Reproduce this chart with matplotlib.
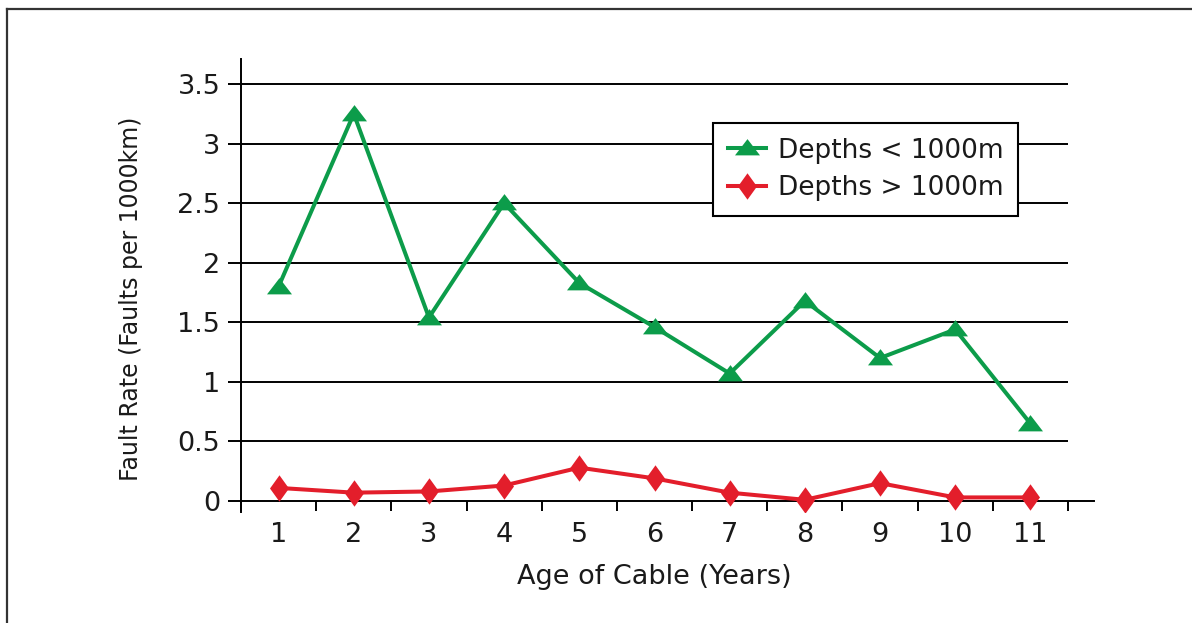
import matplotlib
matplotlib.use("Agg")
import matplotlib.pyplot as plt
from matplotlib.path import Path
from matplotlib.lines import Line2D

# dados
anos = [1, 2, 3, 4, 5, 6, 7, 8, 9, 10, 11]
raso = [1.80, 3.25, 1.54, 2.50, 1.83, 1.46, 1.07, 1.68, 1.20, 1.44, 0.65]
profundo = [0.11, 0.07, 0.08, 0.13, 0.28, 0.19, 0.07, 0.01, 0.15, 0.03, 0.03]
y_ticks = [0, 0.5, 1, 1.5, 2, 2.5, 3, 3.5]
y_labels = ["0", "0.5", "1", "1.5", "2", "2.5", "3", "3.5"]
rotulo_raso = "Depths < 1000m"
rotulo_profundo = "Depths > 1000m"

W, H = 1192, 623
verde = "#0c9c4a"
vermelho = "#e31e2b"
texto = "#1a1a1a"

plt.rcParams["font.family"] = ["DejaVu Sans"]
fig = plt.figure(figsize=(W / 100, H / 100), dpi=100)

# eixo em pixels: y=0 em 501, y=3.5 em 84 ; x=0.5 em 241, x=11.5 em 1068
px_y = (501 - 84) / 3.5
px_x = (1068 - 241) / 11.0
left, right, top, bottom = 241, 1094, 59, 512
ax = fig.add_axes([left / W, 1 - bottom / H, (right - left) / W, (bottom - top) / H])
ax.set_xlim(0.5, 0.5 + (right - left) / px_x)
ax.set_ylim(-(bottom - 501) / px_y, 3.5 + (84 - top) / px_y)

# linhas de grade só até 11.5
ax.hlines(y_ticks[1:], 0.5, 11.5, color="black", lw=1.4, zorder=1)

tri = Path([(-1, -0.55), (1, -0.55), (0, 0.75), (-1, -0.55)],
           [Path.MOVETO, Path.LINETO, Path.LINETO, Path.CLOSEPOLY])
dia = Path([(0, 1), (0.72, 0), (0, -1), (-0.72, 0), (0, 1)],
           [Path.MOVETO, Path.LINETO, Path.LINETO, Path.LINETO, Path.CLOSEPOLY])

ax.plot(anos, raso, color=verde, lw=2.9, marker=tri, markersize=18,
        markeredgewidth=0, label=rotulo_raso, zorder=3)
ax.plot(anos, profundo, color=vermelho, lw=2.9, marker=dia, markersize=19,
        markeredgewidth=0, label=rotulo_profundo, zorder=3)

for s in ["top", "right"]:
    ax.spines[s].set_visible(False)
ax.spines["bottom"].set_position(("data", 0))
ax.spines["left"].set_linewidth(1.4)
ax.spines["bottom"].set_linewidth(1.4)

ax.set_yticks(y_ticks)
ax.set_yticklabels(y_labels)
ax.tick_params(axis="y", direction="out", length=9.4, width=1.4, pad=5.5,
               labelsize=19.5, labelcolor=texto)
ax.set_xticks(anos)
ax.set_xticklabels([str(a) for a in anos])
ax.set_xticks([a - 0.5 for a in anos] + [11.5], minor=True)
ax.tick_params(axis="x", which="major", length=0, pad=15, labelsize=19.5,
               labelcolor=texto)
ax.tick_params(axis="x", which="minor", direction="out", length=7.2, width=1.4)

fig.text(654 / W, 1 - 577 / H, "Age of Cable (Years)", ha="center", va="center",
         fontsize=19.5, color=texto)
fig.text(131 / W, 1 - 299 / H, "Fault Rate (Faults per 1000km)", ha="center",
         va="center", rotation=90, fontsize=17, color=texto)

leg = ax.legend(loc="upper left", bbox_to_anchor=(713 / W, 1 - 123 / H),
                bbox_transform=fig.transFigure, borderaxespad=0, fancybox=False,
                framealpha=1, edgecolor="black", fontsize=19, handlelength=1.45,
                handletextpad=0.45, borderpad=0.55, labelspacing=0.45)
leg.get_frame().set_linewidth(1.5)
for t in leg.get_texts():
    t.set_color(texto)

# moldura externa (só esquerda e topo aparecem no recorte)
fig.add_artist(Line2D([7 / W, 7 / W], [0, 1 - 9 / H], color="#333333", lw=1.6))
fig.add_artist(Line2D([7 / W, 1], [1 - 9 / H, 1 - 9 / H], color="#333333", lw=1.6))

fig.savefig("out.png", dpi=100)
